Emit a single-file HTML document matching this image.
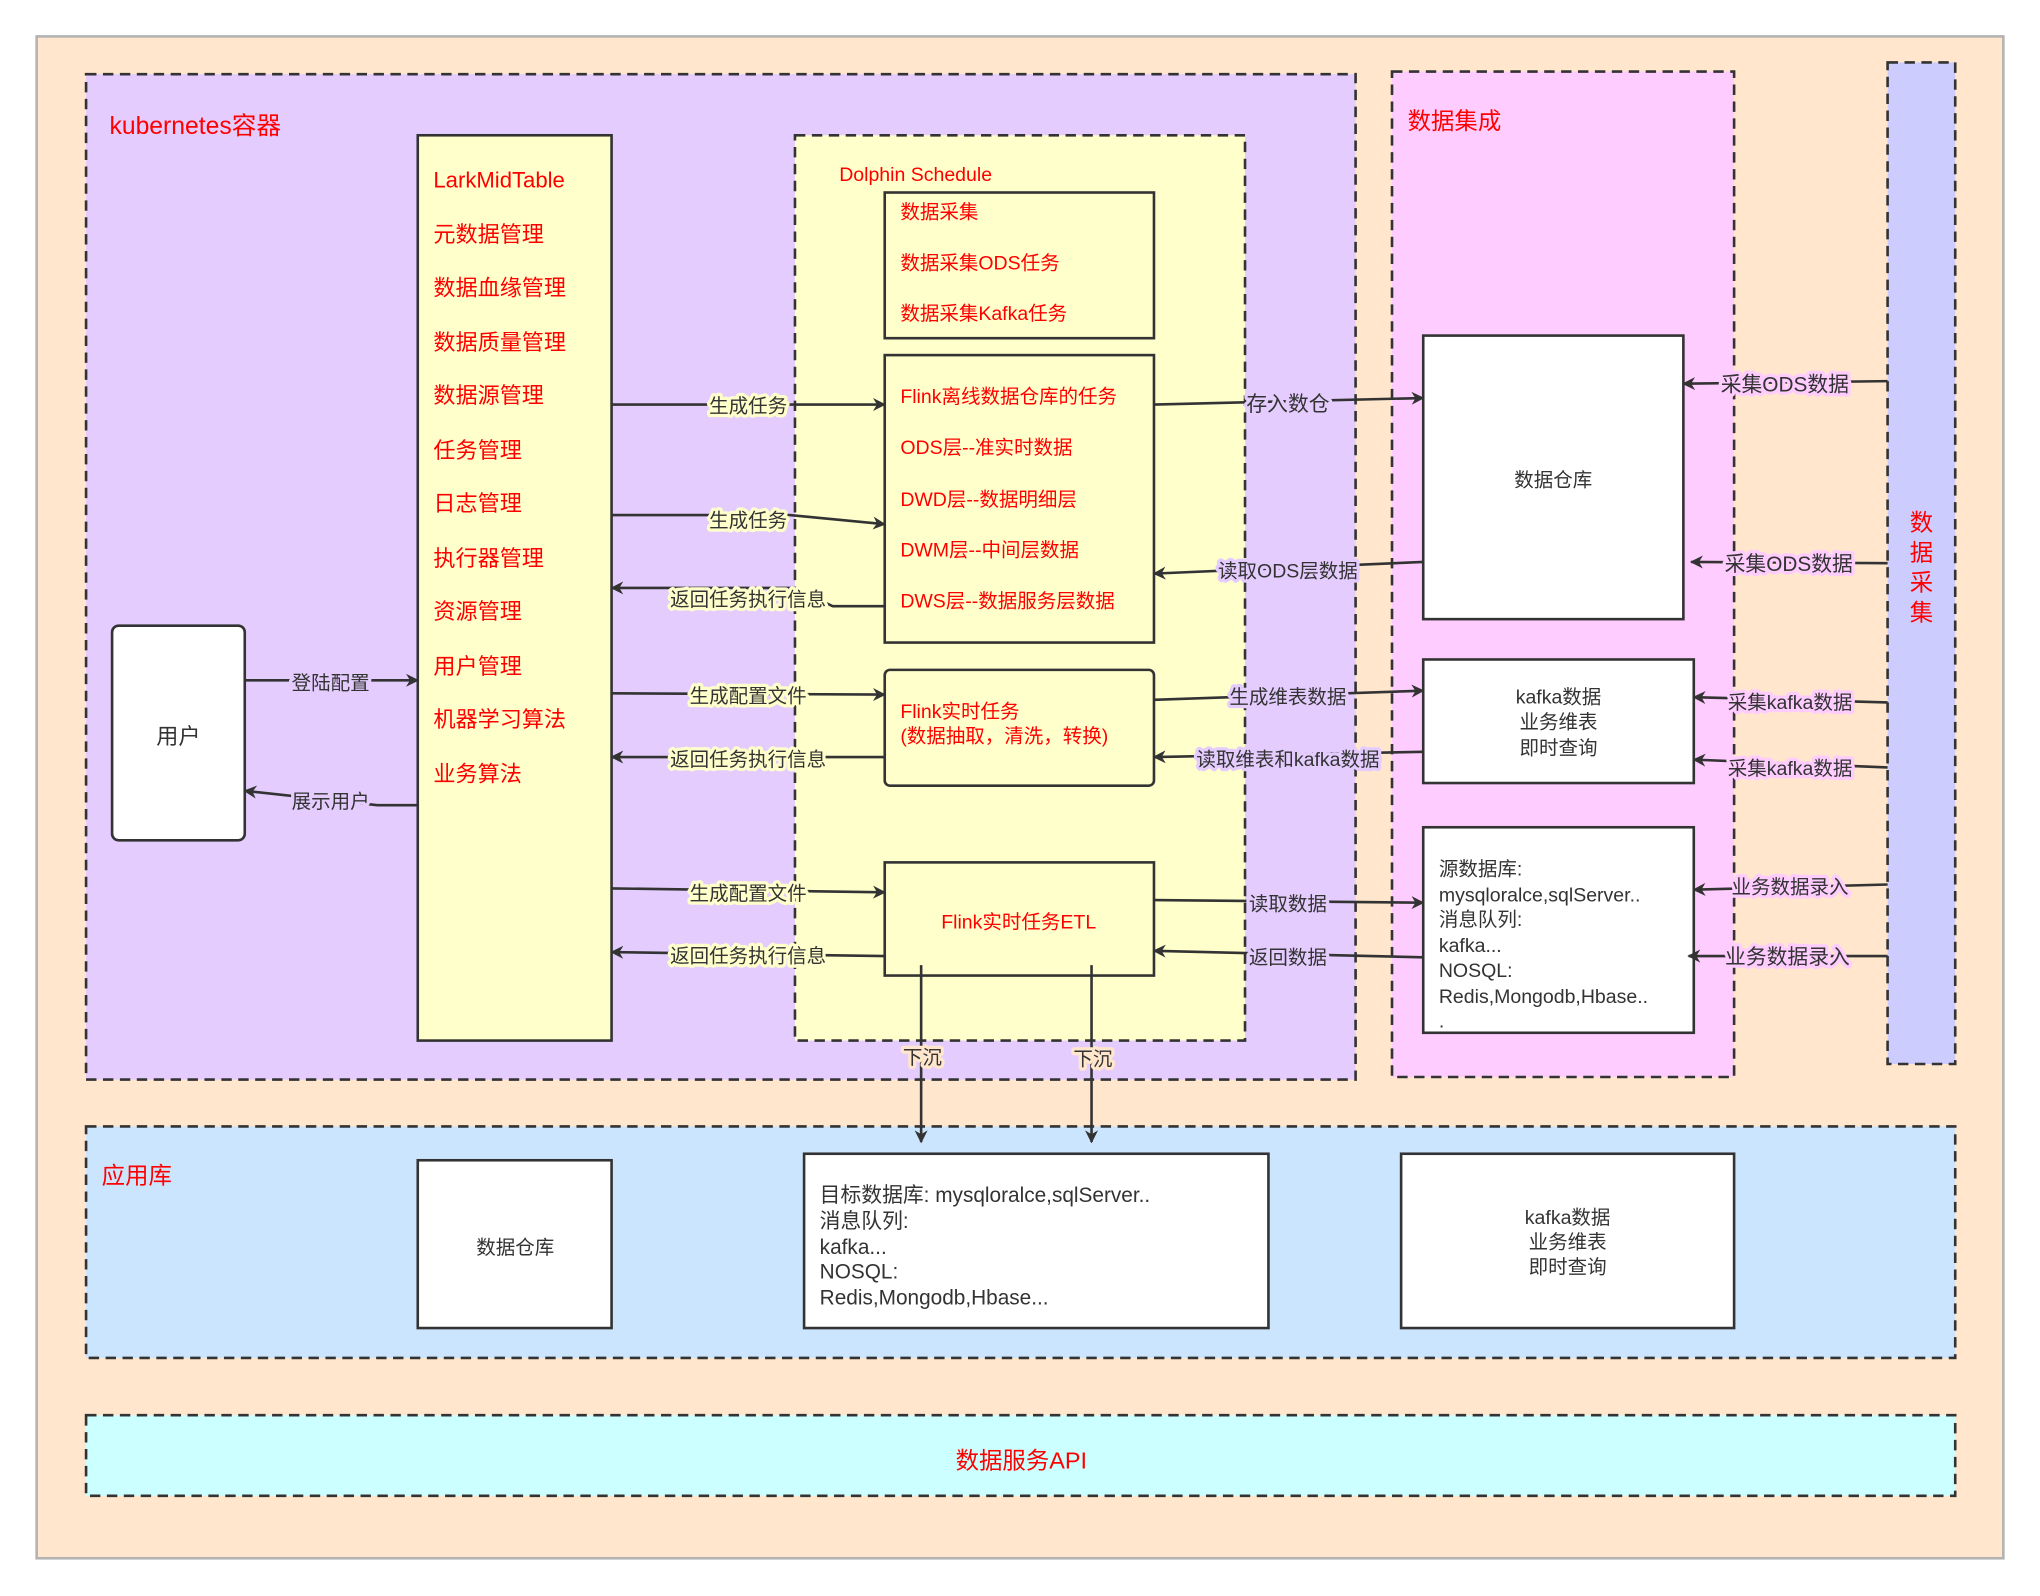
<!DOCTYPE html>
<html><head><meta charset="utf-8"><style>
html,body{margin:0;padding:0;background:#fff;}
svg{display:block;}
text{font-family:"Liberation Sans","Noto Sans CJK SC",sans-serif;}
</style></head><body>
<svg width="2040" height="1596" viewBox="0 0 1568 1227" xmlns="http://www.w3.org/2000/svg">
<defs>
<marker id="a" markerWidth="10" markerHeight="10" refX="9" refY="5" orient="auto" markerUnits="userSpaceOnUse"><path d="M0,0 L10,5 L0,10 L3,5 Z" fill="#333"/></marker>
</defs>
<rect x="28" y="28" width="1512" height="1170" fill="#FFE6CC" stroke="#b3b3b3" stroke-width="2"/>
<!-- containers -->
<rect x="66" y="57" width="976" height="773" fill="#E5CCFF" stroke="#333" stroke-width="2" stroke-dasharray="8,5"/>
<text x="84" y="103" font-size="19" fill="#f00">kubernetes容器</text>
<rect x="1070" y="55" width="263" height="773" fill="#FFCCFF" stroke="#333" stroke-width="2" stroke-dasharray="8,5"/>
<text x="1082" y="99" font-size="18" fill="#f00">数据集成</text>
<rect x="1451" y="48" width="52" height="770" fill="#CCCCFF" stroke="#333" stroke-width="2" stroke-dasharray="8,5"/>
<g font-size="18" fill="#f00" text-anchor="middle"><text x="1477" y="408">数</text><text x="1477" y="431">据</text><text x="1477" y="454">采</text><text x="1477" y="477">集</text></g>
<rect x="66" y="866" width="1437" height="178" fill="#CCE5FF" stroke="#333" stroke-width="2" stroke-dasharray="8,5"/>
<text x="78" y="910" font-size="18" fill="#f00">应用库</text>
<rect x="66" y="1088" width="1437" height="62" fill="#CCFFFF" stroke="#333" stroke-width="2" stroke-dasharray="8,5"/>
<text x="785" y="1129" font-size="18" fill="#f00" text-anchor="middle">数据服务API</text>
<!-- Lark -->
<rect x="321" y="104" width="149" height="696" fill="#FFFFCC" stroke="#333" stroke-width="2"/>
<g font-size="17" fill="#f00">
<text x="333" y="144">LarkMidTable</text><text x="333" y="186">元数据管理</text><text x="333" y="227">数据血缘管理</text><text x="333" y="269">数据质量管理</text><text x="333" y="310">数据源管理</text><text x="333" y="352">任务管理</text><text x="333" y="393">日志管理</text><text x="333" y="435">执行器管理</text><text x="333" y="476">资源管理</text><text x="333" y="518">用户管理</text><text x="333" y="559">机器学习算法</text><text x="333" y="601">业务算法</text>
</g>
<!-- Dolphin -->
<rect x="611" y="104" width="346" height="696" fill="#FFFFCC" stroke="#333" stroke-width="2" stroke-dasharray="8,5"/>
<text x="645" y="139" font-size="15" fill="#f00">Dolphin Schedule</text>
<rect x="680" y="148" width="207" height="112" fill="#FFFFCC" stroke="#333" stroke-width="2"/>
<g font-size="15" fill="#f00"><text x="692" y="168">数据采集</text><text x="692" y="207">数据采集ODS任务</text><text x="692" y="246">数据采集Kafka任务</text></g>
<rect x="680" y="273" width="207" height="221" fill="#FFFFCC" stroke="#333" stroke-width="2"/>
<g font-size="15" fill="#f00"><text x="692" y="310">Flink离线数据仓库的任务</text><text x="692" y="349">ODS层--准实时数据</text><text x="692" y="389">DWD层--数据明细层</text><text x="692" y="428">DWM层--中间层数据</text><text x="692" y="467">DWS层--数据服务层数据</text></g>
<rect x="680" y="515" width="207" height="89" rx="4" fill="#FFFFCC" stroke="#333" stroke-width="2"/>
<g font-size="15" fill="#f00"><text x="692" y="552">Flink实时任务</text><text x="692" y="571">(数据抽取，清洗，转换)</text></g>
<rect x="680" y="663" width="207" height="87" fill="#FFFFCC" stroke="#333" stroke-width="2"/>
<text x="783" y="714" font-size="15" fill="#f00" text-anchor="middle">Flink实时任务ETL</text>
<!-- user -->
<rect x="86" y="481" width="102" height="165" rx="5" fill="#fff" stroke="#333" stroke-width="2"/>
<text x="137" y="572" font-size="17" fill="#333" text-anchor="middle">用户</text>
<!-- right boxes -->
<rect x="1094" y="258" width="200" height="218" fill="#fff" stroke="#333" stroke-width="2"/>
<text x="1194" y="374" font-size="15" fill="#333" text-anchor="middle">数据仓库</text>
<rect x="1094" y="507" width="208" height="95" fill="#fff" stroke="#333" stroke-width="2"/>
<g font-size="15" fill="#333" text-anchor="middle"><text x="1198" y="541">kafka数据</text><text x="1198" y="560">业务维表</text><text x="1198" y="580">即时查询</text></g>
<rect x="1094" y="636" width="208" height="158" fill="#fff" stroke="#333" stroke-width="2"/>
<g font-size="15" fill="#333"><text x="1106" y="673">源数据库:</text><text x="1106" y="693">mysqloralce,sqlServer..</text><text x="1106" y="712">消息队列:</text><text x="1106" y="732">kafka...</text><text x="1106" y="751">NOSQL:</text><text x="1106" y="771">Redis,Mongodb,Hbase..</text><text x="1106" y="790">.</text></g>
<!-- bottom boxes -->
<rect x="321" y="892" width="149" height="129" fill="#fff" stroke="#333" stroke-width="2"/>
<text x="396" y="964" font-size="15" fill="#333" text-anchor="middle">数据仓库</text>
<rect x="618" y="887" width="357" height="134" fill="#fff" stroke="#333" stroke-width="2"/>
<g font-size="16" fill="#333"><text x="630" y="924">目标数据库:  mysqloralce,sqlServer..</text><text x="630" y="944">消息队列:</text><text x="630" y="964">kafka...</text><text x="630" y="983">NOSQL:</text><text x="630" y="1003">Redis,Mongodb,Hbase...</text></g>
<rect x="1077" y="887" width="256" height="134" fill="#fff" stroke="#333" stroke-width="2"/>
<g font-size="15" fill="#333" text-anchor="middle"><text x="1205" y="941">kafka数据</text><text x="1205" y="960">业务维表</text><text x="1205" y="979">即时查询</text></g>
<!-- arrows -->
<g stroke="#333" stroke-width="2" fill="none" marker-end="url(#a)">
<path d="M470,311 L680,311"/>
<path d="M470,396 L607,396 L680,403"/>
<path d="M680,466 L640,466 L610,452 L470,452"/>
<path d="M470,533 L680,534"/>
<path d="M680,582 L470,582"/>
<path d="M470,683 L680,686"/>
<path d="M680,735 L470,732"/>
<path d="M188,523 L321,523"/>
<path d="M321,619 L290,619 L188,608"/>
<path d="M887,311 L1094,306"/>
<path d="M1094,432 L887,441"/>
<path d="M887,538 L1094,531"/>
<path d="M1094,578 L887,582"/>
<path d="M887,692 L1094,694"/>
<path d="M1094,736 L887,731"/>
<path d="M1451,293 L1294,295"/>
<path d="M1451,433 L1300,432"/>
<path d="M1451,540 L1302,536"/>
<path d="M1451,590 L1302,584"/>
<path d="M1451,680 L1302,684"/>
<path d="M1451,735 L1298,735"/>
<path d="M708,742 L708,878"/>
<path d="M839,742 L839,878"/>
</g>
<!-- labels -->
<g font-size="15" fill="#333" text-anchor="middle" paint-order="stroke" stroke-width="5" stroke-linejoin="round">
<text x="575" y="317" stroke="#FFFFCC">生成任务</text>
<text x="575" y="405" stroke="#FFFFCC">生成任务</text>
<text x="575" y="466" stroke="#FFFFCC">返回任务执行信息</text>
<text x="575" y="540" stroke="#FFFFCC">生成配置文件</text>
<text x="575" y="589" stroke="#FFFFCC">返回任务执行信息</text>
<text x="575" y="692" stroke="#FFFFCC">生成配置文件</text>
<text x="575" y="740" stroke="#FFFFCC">返回任务执行信息</text>
<text x="254" y="530" stroke="#E5CCFF">登陆配置</text>
<text x="254" y="621" stroke="#E5CCFF">展示用户</text>
<text x="990" y="316" stroke="#E5CCFF" font-size="16">存入数仓</text>
<text x="990" y="444" stroke="#E5CCFF">读取ODS层数据</text>
<text x="990" y="541" stroke="#E5CCFF">生成维表数据</text>
<text x="990" y="589" stroke="#E5CCFF">读取维表和kafka数据</text>
<text x="990" y="700" stroke="#E5CCFF">读取数据</text>
<text x="990" y="741" stroke="#E5CCFF">返回数据</text>
<text x="1372" y="301" stroke="#FFCCFF" font-size="16">采集ODS数据</text>
<text x="1375" y="439" stroke="#FFCCFF" font-size="16">采集ODS数据</text>
<text x="1376" y="545" stroke="#FFCCFF">采集kafka数据</text>
<text x="1376" y="596" stroke="#FFCCFF">采集kafka数据</text>
<text x="1376" y="687" stroke="#FFCCFF">业务数据录入</text>
<text x="1374" y="741" stroke="#FFCCFF" font-size="16">业务数据录入</text>
<text x="709" y="818" stroke="#FFE6CC">下沉</text>
<text x="840" y="819" stroke="#FFE6CC">下沉</text>
</g>
</svg>
</body></html>
